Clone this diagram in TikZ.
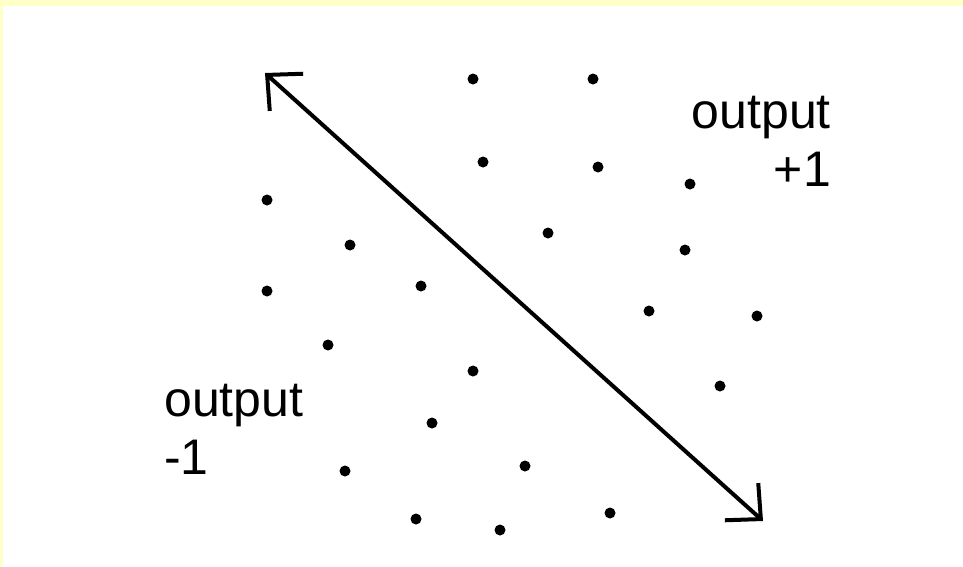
\documentclass[tikz,border=0pt]{standalone}
\usepackage{fontspec}
\setmainfont{Liberation Sans}
\usetikzlibrary{arrows.meta}
\definecolor{bandyellow}{HTML}{FFFFC8}
\tikzset{
  pt/.style={circle,fill=black,inner sep=0pt,minimum size=11pt},
  lbl/.style={font=\fontsize{50}{58}\selectfont,inner sep=0pt},
  sep/.style={line width=4pt,{Straight Barb[length=26pt,width=50pt]}-{Straight Barb[length=26pt,width=50pt]}}
}
\begin{document}
\begin{tikzpicture}[x=1pt,y=-1pt]
\fill[bandyellow] (0,0) rectangle (963,566);
\fill[white] (3,6) rectangle (963,566);
\useasboundingbox (0,0) rectangle (963,566);
\foreach \i/\x/\y in {1/473/79,2/593/79,3/483/162,4/598/167,5/690/184,6/267/200,7/548/233,8/350/245,9/685/250,10/267/291,11/421/286,12/649/311,13/757/316,14/328/345,15/473/371,16/720/386,17/432/423,18/345/471,19/525/466,20/416/519,21/500/530,22/610/513}
  \node[pt] (d\i) at (\x,\y) {};
\coordinate (a1) at (265,73);
\coordinate (a2) at (763,521);
\draw[sep] (a1) -- (a2);
\node[lbl,align=right,anchor=north east] (plus) at (831,96) {output\\+1};
\node[lbl,align=left,anchor=north west] (minus) at (164,384) {output\\-1};
\end{tikzpicture}
\end{document}
